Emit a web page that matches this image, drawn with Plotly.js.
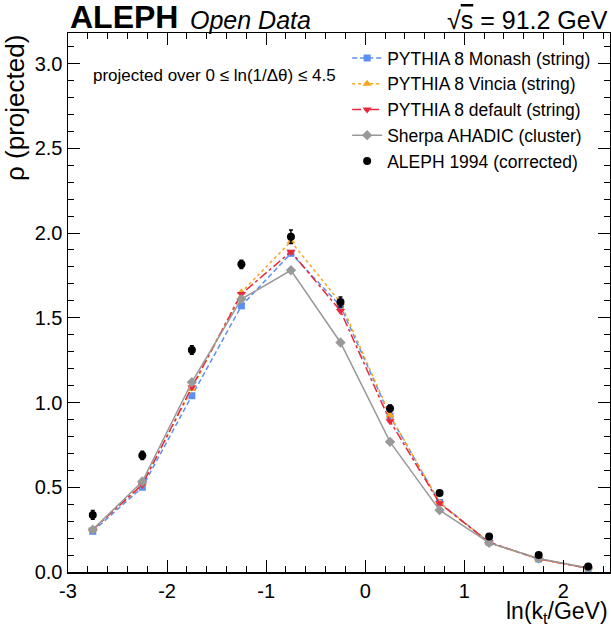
<!DOCTYPE html>
<html><head><meta charset="utf-8">
<script src="https://cdn.plot.ly/plotly-3.0.1.min.js"></script>
<style>html,body{margin:0;padding:0;background:#fff}</style>
</head><body>
<div id="chart" style="width:611px;height:628px"></div>
<script>
const xBins = [-2.75, -2.25, -1.75, -1.25, -0.75, -0.25, 0.25, 0.75, 1.25, 1.75, 2.25];
const monash = [0.24, 0.50, 1.04, 1.57, 1.88, 1.57, 0.92, 0.41, 0.175, 0.077, 0.022];
const vincia = [0.25, 0.52, 1.08, 1.65, 1.95, 1.59, 0.925, 0.41, 0.172, 0.076, 0.022];
const pydefault = [0.25, 0.515, 1.09, 1.64, 1.89, 1.54, 0.89, 0.405, 0.175, 0.077, 0.022];
const sherpa = [0.25, 0.534, 1.12, 1.61, 1.78, 1.354, 0.768, 0.365, 0.172, 0.080, 0.024];
const aleph = [0.337, 0.688, 1.31, 1.815, 1.978, 1.593, 0.965, 0.466, 0.21, 0.10, 0.033];
const alephErr = [0.026, 0.025, 0.025, 0.025, 0.04, 0.03, 0.02, 0.012, 0.008, 0.005, 0.003];
const names = ['PYTHIA 8 Monash (string)', 'PYTHIA 8 Vincia (string)', 'PYTHIA 8 default (string)', 'Sherpa AHADIC (cluster)', 'ALEPH 1994 (corrected)'];
const xTickVals = [-3, -2, -1, 0, 1, 2];
const xTickText = ['-3', '-2', '-1', '0', '1', '2'];

const FONT = 'Liberation Sans, Arial, Helvetica, sans-serif';
const traces = [
  {x: xBins, y: monash, name: names[0], mode: 'lines+markers', line: {color: '#5b8ff2', dash: '5px,3px', width: 1.5}, marker: {symbol: 'square', size: 7, color: '#5b8ff2'}},
  {x: xBins, y: vincia, name: names[1], mode: 'lines+markers', line: {color: '#f5a623', dash: 'dot', width: 1.5}, marker: {symbol: 'triangle-up', size: 8, color: '#f5a623'}},
  {x: xBins, y: pydefault, name: names[2], mode: 'lines+markers', line: {color: '#e8283c', dash: 'dashdot', width: 1.5}, marker: {symbol: 'triangle-down', size: 8, color: '#e8283c'}},
  {x: xBins, y: sherpa, name: names[3], mode: 'lines+markers', line: {color: '#999999', dash: 'solid', width: 1.5}, marker: {symbol: 'diamond', size: 8, color: '#999999'}},
  {x: xBins, y: aleph, name: names[4], mode: 'markers', marker: {symbol: 'circle', size: 8, color: '#000000'},
   error_y: {type: 'data', array: alephErr, visible: true, color: '#000', thickness: 1.5, width: 2}}
];

const layout = {
  width: 611, height: 628,
  margin: {l: 68, r: 1, t: 33, b: 56},
  paper_bgcolor: '#fff', plot_bgcolor: '#fff',
  font: {family: FONT, size: 19, color: '#000'},
  showlegend: true,
  legend: {x: 0.515, y: 0.987, xanchor: 'left', yanchor: 'top', bgcolor: 'rgba(0,0,0,0)',
           font: {family: FONT, size: 17.5, color: '#000'}, tracegroupgap: 0, itemwidth: 30},
  xaxis: {range: [-3, 2.47], showline: true, linecolor: '#000', linewidth: 1.5, mirror: 'allticks',
          ticks: 'inside', ticklen: 12, tickwidth: 1, tickcolor: '#000',
          tickmode: 'array', tickvals: xTickVals, ticktext: xTickText,
          showgrid: false, zeroline: false, tickfont: {size: 20},
          minor: {dtick: 0.2, tick0: -3, ticks: 'inside', ticklen: 6, tickcolor: '#000', showgrid: false}},
  yaxis: {range: [0, 3.18], showline: true, linecolor: '#000', linewidth: 1.5, mirror: 'allticks',
          ticks: 'inside', ticklen: 12, tickwidth: 1, tickcolor: '#000', dtick: 0.5, tick0: 0,
          tickformat: '.1f', showgrid: false, zeroline: false, tickfont: {size: 20},
          minor: {dtick: 0.1, ticks: 'inside', ticklen: 6, tickcolor: '#000', showgrid: false}},
  annotations: [
    {text: '<b>ALEPH</b>', xref: 'paper', yref: 'paper', x: 0, y: 1, xanchor: 'left', yanchor: 'bottom', yshift: -4,
     showarrow: false, font: {family: FONT, size: 32, color: '#000'}},
    {text: '<i>Open Data</i>', xref: 'paper', yref: 'paper', x: 0.222, y: 1, xanchor: 'left', yanchor: 'bottom', yshift: -3,
     showarrow: false, font: {family: FONT, size: 25, color: '#000'}},
    {text: '√<span style="text-decoration:overline">s</span> = 91.2 GeV', xref: 'paper', yref: 'paper', x: 1, y: 1, xanchor: 'right', yanchor: 'bottom', yshift: -3,
     showarrow: false, font: {family: FONT, size: 25, color: '#000'}},
    {text: 'projected over 0 ≤ ln(1/Δθ) ≤ 4.5', xref: 'paper', yref: 'paper', x: 0.043, y: 0.922, xanchor: 'left', yanchor: 'middle',
     showarrow: false, font: {family: FONT, size: 17, color: '#000'}},
    {text: 'ρ (projected)', xref: 'paper', yref: 'paper', x: 0, y: 1, xanchor: 'right', yanchor: 'top', textangle: -90, xshift: -36,
     showarrow: false, font: {family: FONT, size: 26, color: '#000'}},
    {text: 'ln(k<sub>t</sub>/GeV)', xref: 'paper', yref: 'paper', x: 1, y: 0, xanchor: 'right', yanchor: 'top', yshift: -24,
     showarrow: false, font: {family: FONT, size: 23, color: '#000'}}
  ]
};
Plotly.newPlot('chart', traces, layout, {displayModeBar: false, staticPlot: true});
</script>
</body></html>
